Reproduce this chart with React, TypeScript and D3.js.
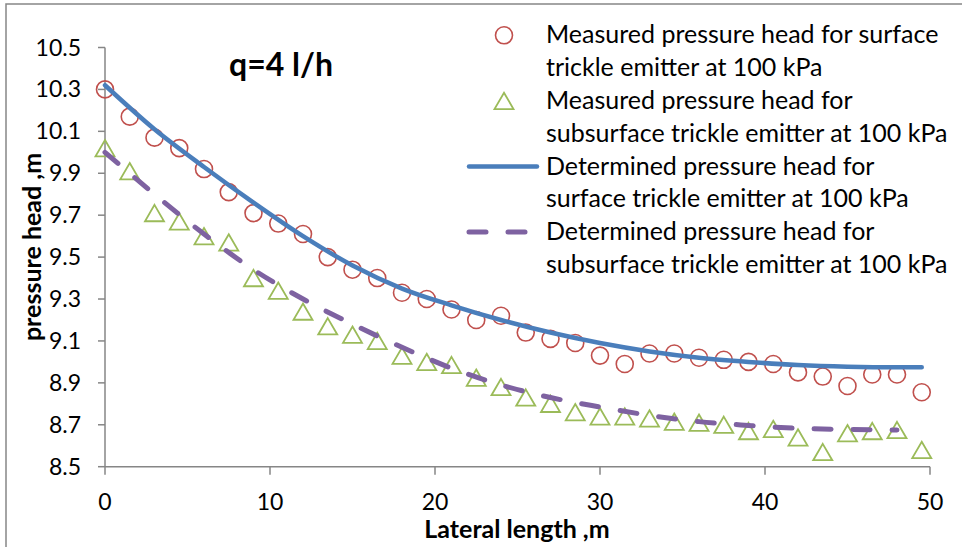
import React, { useEffect, useRef } from "react";
import * as d3 from "d3";

// lateral positions of the emitters (m)
const distances = [
  0, 1.5, 3, 4.5, 6, 7.5, 9, 10.5, 12, 13.5, 15, 16.5, 18, 19.5, 21, 22.5, 24,
  25.5, 27, 28.5, 30, 31.5, 33, 34.5, 36, 37.5, 39, 40.5, 42, 43.5, 45, 46.5,
  48, 49.5,
];

const measuredSurface = [
  10.3, 10.17, 10.07, 10.02, 9.92, 9.81, 9.71, 9.66, 9.61, 9.5, 9.44, 9.4,
  9.33, 9.3, 9.25, 9.2, 9.22, 9.14, 9.11, 9.09, 9.03, 8.99, 9.04, 9.04, 9.02,
  9.01, 9.0, 8.99, 8.95, 8.93, 8.885, 8.94, 8.94, 8.855,
];

const measuredSubsurface = [
  10.02, 9.91, 9.71, 9.67, 9.6, 9.57, 9.4, 9.34, 9.24, 9.17, 9.13, 9.1, 9.03,
  9.0, 8.985, 8.925, 8.88, 8.83, 8.8, 8.76, 8.74, 8.74, 8.73, 8.715, 8.71,
  8.7, 8.67, 8.68, 8.64, 8.57, 8.66, 8.67, 8.675, 8.58,
];

const determinedSurfaceX = [
  0, 3, 6, 9, 12, 15, 18, 21, 24, 27, 30, 33, 36, 39, 42, 45, 48, 49.5,
];
const determinedSurface = [
  10.32, 10.11, 9.93, 9.76, 9.6, 9.46, 9.35, 9.27, 9.2, 9.14, 9.09, 9.05,
  9.02, 9.0, 8.985, 8.977, 8.974, 8.974,
];

const determinedSubsurfaceX = [
  0, 3, 6, 9, 12, 15, 18, 21, 24, 27, 30, 33, 36, 39, 42, 45, 48,
];
const determinedSubsurface = [
  10.0, 9.8, 9.61, 9.44, 9.3, 9.18, 9.07, 8.97, 8.89, 8.83, 8.785, 8.745,
  8.715, 8.697, 8.683, 8.678, 8.675,
];

const xTicks = [0, 10, 20, 30, 40, 50];
const yTicks = [8.5, 8.7, 8.9, 9.1, 9.3, 9.5, 9.7, 9.9, 10.1, 10.3, 10.5];

const legendLabels = [
  ["Measured pressure head for surface", "trickle emitter at 100 kPa"],
  ["Measured pressure head for", "subsurface trickle emitter at 100 kPa"],
  ["Determined pressure head for", "surface trickle emitter at 100 kPa"],
  ["Determined pressure head for", "subsurface trickle emitter at 100 kPa"],
];

const RED = "#c0504d";
const GREEN = "#9bbb59";
const BLUE = "#4a7ebb";
const PURPLE = "#7e62a1";
const AXIS = "#868686";
const FONT = "Lato, 'Open Sans', sans-serif";

// triangle centred on its bounding box, like the spreadsheet marker
const boxTriangle = {
  draw(context: any, size: number) {
    const s = Math.sqrt(size);
    const h = s * 0.86;
    context.moveTo(0, -h / 2);
    context.lineTo(s / 2, h / 2);
    context.lineTo(-s / 2, h / 2);
    context.closePath();
  },
};

const App = () => {
  const ref = useRef<SVGSVGElement>(null);

  useEffect(() => {
    const svg = d3.select(ref.current);
    svg.selectAll("*").remove();

    const x = d3.scaleLinear().domain([0, 50]).range([105, 930]);
    const y = d3.scaleLinear().domain([8.5, 10.5]).range([466.7, 47.5]);

    // chart frame
    svg
      .append("rect")
      .attr("x", 6)
      .attr("y", 4)
      .attr("width", 1000)
      .attr("height", 600)
      .attr("fill", "white")
      .attr("stroke", AXIS)
      .attr("stroke-width", 1.5);

    // y axis
    const yAxis = svg.append("g");
    yAxis
      .append("line")
      .attr("x1", x(0))
      .attr("x2", x(0))
      .attr("y1", y(8.5))
      .attr("y2", y(10.5))
      .attr("stroke", AXIS)
      .attr("stroke-width", 1.5);
    yAxis
      .selectAll("line.tick")
      .data(yTicks)
      .enter()
      .append("line")
      .attr("class", "tick")
      .attr("x1", x(0) - 7)
      .attr("x2", x(0))
      .attr("y1", (d) => y(d))
      .attr("y2", (d) => y(d))
      .attr("stroke", AXIS)
      .attr("stroke-width", 1.5);
    yAxis
      .selectAll("text")
      .data(yTicks)
      .enter()
      .append("text")
      .attr("x", 81)
      .attr("y", (d) => y(d) + 8)
      .attr("text-anchor", "end")
      .style("font-family", FONT)
      .style("font-size", "23px")
      .style("fill", "#000")
      .text((d) => d3.format(".1f")(d));

    // x axis
    const xAxis = svg.append("g");
    xAxis
      .append("line")
      .attr("x1", x(0))
      .attr("x2", x(50))
      .attr("y1", y(8.5))
      .attr("y2", y(8.5))
      .attr("stroke", AXIS)
      .attr("stroke-width", 1.5);
    xAxis
      .selectAll("line.tick")
      .data(xTicks)
      .enter()
      .append("line")
      .attr("class", "tick")
      .attr("x1", (d) => x(d))
      .attr("x2", (d) => x(d))
      .attr("y1", y(8.5))
      .attr("y2", y(8.5) + 8)
      .attr("stroke", AXIS)
      .attr("stroke-width", 1.5);
    xAxis
      .selectAll("text")
      .data(xTicks)
      .enter()
      .append("text")
      .attr("x", (d) => x(d))
      .attr("y", 510)
      .attr("text-anchor", "middle")
      .style("font-family", FONT)
      .style("font-size", "23px")
      .style("fill", "#000")
      .text((d) => d);

    // axis titles
    svg
      .append("text")
      .attr("x", 517)
      .attr("y", 538)
      .attr("text-anchor", "middle")
      .style("font-family", FONT)
      .style("font-size", "25px")
      .style("font-weight", "bold")
      .text("Lateral length ,m");

    svg
      .append("text")
      .attr("transform", "translate(41,247) rotate(-90)")
      .attr("text-anchor", "middle")
      .style("font-family", FONT)
      .style("font-size", "25px")
      .style("font-weight", "bold")
      .text("pressure head ,m");

    svg
      .append("text")
      .attr("x", 229)
      .attr("y", 76)
      .style("font-family", FONT)
      .style("font-size", "32px")
      .style("font-weight", "bold")
      .text("q=4 l/h");

    // measured points
    const circle = d3.symbol().type(d3.symbolCircle).size(Math.PI * 8.5 * 8.5);
    const tri = d3.symbol().type(boxTriangle).size(19 * 19);

    svg
      .append("g")
      .selectAll("path")
      .data(measuredSurface)
      .enter()
      .append("path")
      .attr("d", circle)
      .attr("transform", (d, i) => `translate(${x(distances[i])},${y(d)})`)
      .attr("fill", "none")
      .attr("stroke", RED)
      .attr("stroke-width", 1.6);

    svg
      .append("g")
      .selectAll("path")
      .data(measuredSubsurface)
      .enter()
      .append("path")
      .attr("d", tri)
      .attr("transform", (d, i) => `translate(${x(distances[i])},${y(d)})`)
      .attr("fill", "none")
      .attr("stroke", GREEN)
      .attr("stroke-width", 1.8);

    // determined curves
    const line = d3
      .line<number>()
      .curve(d3.curveMonotoneX);

    svg
      .append("path")
      .attr(
        "d",
        line.x((d, i) => x(determinedSurfaceX[i])).y((d) => y(d))(
          determinedSurface
        )
      )
      .attr("fill", "none")
      .attr("stroke", BLUE)
      .attr("stroke-width", 4.5)
      .attr("stroke-linecap", "round");

    svg
      .append("path")
      .attr(
        "d",
        line.x((d, i) => x(determinedSubsurfaceX[i])).y((d) => y(d))(
          determinedSubsurface
        )
      )
      .attr("fill", "none")
      .attr("stroke", PURPLE)
      .attr("stroke-width", 5)
      .attr("stroke-linecap", "round")
      .attr("stroke-dasharray", "17 22");

    // legend
    const legend = svg.append("g");
    const base = (i: number) => 43.3 + 65.6 * i;

    legendLabels.forEach((lines, i) => {
      lines.forEach((t, j) => {
        legend
          .append("text")
          .attr("x", 546)
          .attr("y", base(i) + 32.8 * j)
          .style("font-family", FONT)
          .style("font-size", "25px")
          .style("fill", "#000")
          .text(t);
      });
    });

    legend
      .append("path")
      .attr("d", circle)
      .attr("transform", `translate(504,${base(0) - 8})`)
      .attr("fill", "none")
      .attr("stroke", RED)
      .attr("stroke-width", 1.6);
    legend
      .append("path")
      .attr("d", tri)
      .attr("transform", `translate(504,${base(1) - 8})`)
      .attr("fill", "none")
      .attr("stroke", GREEN)
      .attr("stroke-width", 1.8);
    legend
      .append("line")
      .attr("x1", 469)
      .attr("x2", 537)
      .attr("y1", base(2) - 8)
      .attr("y2", base(2) - 8)
      .attr("stroke", BLUE)
      .attr("stroke-width", 4.5)
      .attr("stroke-linecap", "round");
    legend
      .append("line")
      .attr("x1", 469)
      .attr("x2", 537)
      .attr("y1", base(3) - 8)
      .attr("y2", base(3) - 8)
      .attr("stroke", PURPLE)
      .attr("stroke-width", 5)
      .attr("stroke-linecap", "round")
      .attr("stroke-dasharray", "17 22");
  }, []);

  return (
    <svg
      ref={ref}
      width={962}
      height={547}
      style={{ position: "absolute", left: 0, top: 0, background: "white" }}
    />
  );
};

export default App;
